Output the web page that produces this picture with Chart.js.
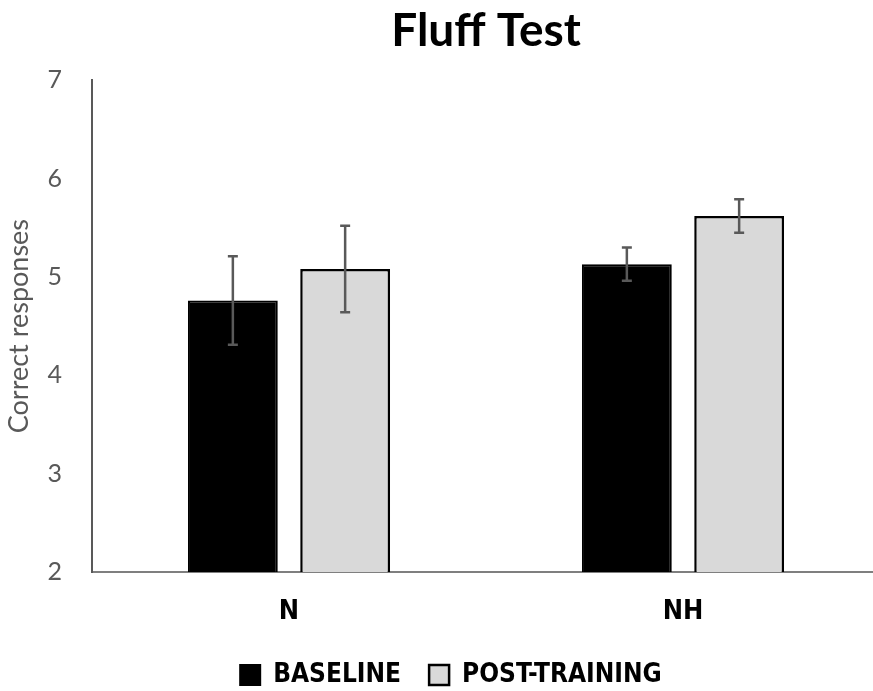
<!DOCTYPE html>
<html>
<head>
<meta charset="utf-8">
<script src="https://cdn.jsdelivr.net/npm/chart.js@4"></script>
<style>
  html, body { margin: 0; padding: 0; background: #fff; overflow: hidden; }
</style>
</head>
<body>
<canvas id="barChart" width="890" height="698"></canvas>
<script>
// ==========================
// Dados
// ==========================
const categories = ['N', 'NH'];
const baseline = [4.76, 5.13];
const baselineErr = [0.45, 0.17];
const postTraining = [5.08, 5.62];
const postTrainingErr = [0.44, 0.17];
const yTicks = [2, 3, 4, 5, 6, 7];

const narrow = "'Liberation Sans Narrow', 'DejaVu Sans Condensed', sans-serif";

// barras de erro desenhadas sobre as barras
const errorBars = {
    id: 'errorBars',
    afterDatasetsDraw(chart) {
        const ctx = chart.ctx;
        const y = chart.scales.y;
        chart.data.datasets.forEach((ds, i) => {
            const meta = chart.getDatasetMeta(i);
            meta.data.forEach((bar, j) => {
                const top = y.getPixelForValue(ds.data[j] + ds.err[j]);
                const bot = y.getPixelForValue(ds.data[j] - ds.err[j]);
                ctx.save();
                ctx.strokeStyle = '#595959';
                ctx.lineWidth = 2.5;
                ctx.beginPath();
                ctx.moveTo(bar.x, top); ctx.lineTo(bar.x, bot);
                ctx.moveTo(bar.x - 5, top); ctx.lineTo(bar.x + 5, top);
                ctx.moveTo(bar.x - 5, bot); ctx.lineTo(bar.x + 5, bot);
                ctx.stroke();
                ctx.restore();
            });
        });
    }
};

// legenda um pouco mais à direita
const shiftLegend = {
    id: 'shiftLegend',
    afterLayout(chart) {
        chart.legend.left += 11;
        chart.legend.right += 11;
    }
};

new Chart(document.getElementById('barChart'), {
    type: 'bar',
    data: {
        labels: categories,
        datasets: [
            {
                label: 'BASELINE',
                data: baseline,
                err: baselineErr,
                backgroundColor: '#000000',
                borderColor: '#000000',
                borderWidth: 2,
            },
            {
                label: 'POST-TRAINING',
                data: postTraining,
                err: postTrainingErr,
                backgroundColor: '#d9d9d9',
                borderColor: '#000000',
                borderWidth: 2.5,
            }
        ]
    },
    options: {
        responsive: false,
        animation: false,
        categoryPercentage: 0.57,
        barPercentage: 0.8,
        layout: { padding: { left: 0, right: 10, top: 0, bottom: 0 } },
        scales: {
            x: {
                afterFit(scale) { scale.height = 62; },
                grid: { display: false, drawTicks: false },
                border: { color: '#7f7f7f', width: 2 },
                ticks: { color: '#000', padding: 24, font: { family: narrow, size: 27, weight: 'bold' } }
            },
            y: {
                min: 2,
                max: 7,
                afterBuildTicks(scale) { scale.ticks = yTicks.map(v => ({ value: v })); },
                afterFit(scale) { scale.width = 92; },
                grid: { display: false, drawTicks: false },
                border: { color: '#595959', width: 2 },
                ticks: { color: '#595959', padding: 30, font: { family: 'Lato', size: 25 } },
                title: {
                    display: true,
                    text: 'Correct responses',
                    color: '#595959',
                    padding: { top: 3, bottom: 0 },
                    font: { family: 'Lato', size: 27 }
                }
            }
        },
        plugins: {
            title: {
                display: true,
                text: 'Fluff Test',
                fullSize: false,
                color: '#000',
                padding: { top: 4, bottom: 21 },
                font: { family: 'Lato', size: 46, weight: 'bold' }
            },
            legend: {
                position: 'bottom',
                labels: {
                    color: '#000',
                    boxWidth: 20,
                    boxHeight: 20,
                    padding: 28,
                    font: { family: narrow, size: 26, weight: 'bold' }
                }
            },
            tooltip: { enabled: false }
        }
    },
    plugins: [errorBars, shiftLegend]
});
</script>
</body>
</html>
